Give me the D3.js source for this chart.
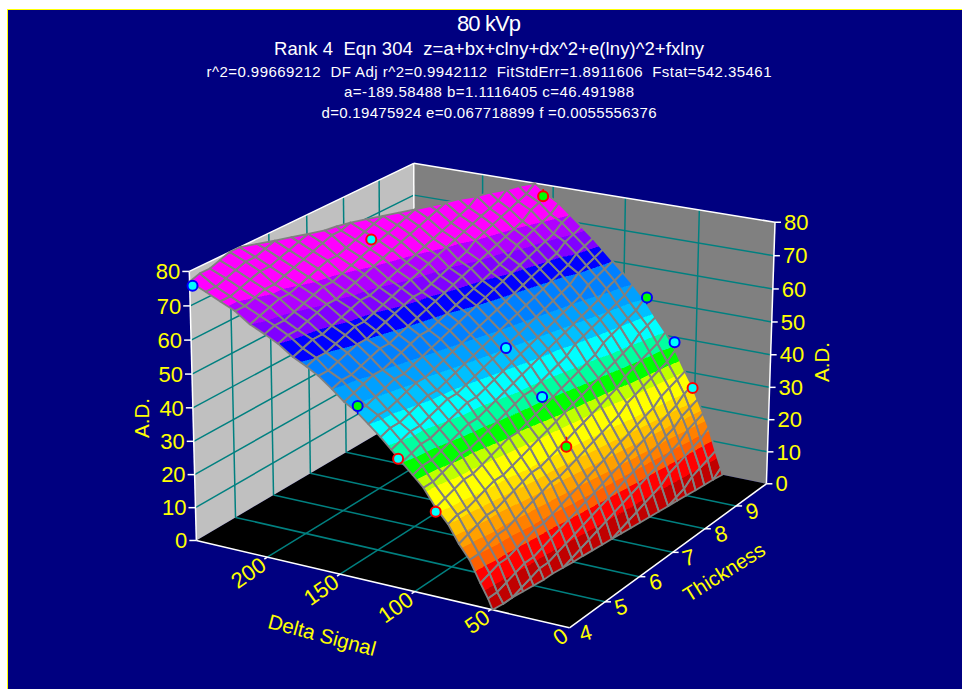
<!DOCTYPE html>
<html>
<head>
<meta charset="utf-8">
<script src="https://cdnjs.cloudflare.com/ajax/libs/d3/7.8.5/d3.min.js"></script>
<style>
  body { margin: 0; background: #fff; }
  svg { display: block; }
  text { font-family: "Liberation Sans", Arial, sans-serif; }
</style>
</head>
<body>
<svg id="chart" width="962" height="689"></svg>
<script>
// title lines
const titleLines = [
  "80 kVp",
  "Rank 4  Eqn 304  z=a+bx+clny+dx^2+e(lny)^2+fxlny",
  "r^2=0.99669212  DF Adj r^2=0.9942112  FitStdErr=1.8911606  Fstat=542.35461",
  "a=-189.58488 b=1.1116405 c=46.491988",
  "d=0.19475924 e=0.067718899 f =0.0055556376",
];

// axis ticks
const deltaTicks = [0, 50, 100, 150, 200];
const thicknessTicks = [4, 5, 6, 7, 8, 9];
const adTicks = [0, 10, 20, 30, 40, 50, 60, 70, 80];

const bandLevels = [0, 5, 10, 13, 16, 19, 22, 25, 30, 33, 37, 41, 46, 50, 54, 60, 64, 68, 72, 80];
const bandColors = [
  "#c00000", "#ff0000", "#ff6000", "#ff8000", "#ffa000",
  "#ffc000", "#ffe000", "#ffff00", "#c0ff00", "#00ff00",
  "#00ffa0", "#00ffff", "#00c0ff", "#00a0ff", "#0080ff",
  "#0000ff", "#8000ff", "#b000ff", "#ff00ff",
];

// measured points
const pointDelta = [248, 137, 110.5, 86, 204.5, 112, 87.5, 71, 157, 84, 64.5, 51.5];
const pointThickness = [4, 4, 4, 4, 7, 7, 7, 7, 10, 10, 10, 10];
const pointAd = [76, 50.6, 37.8, 24.8, 76, 51, 38.4, 25, 76.4, 50.7, 38.4, 25.3];
const pointResidual = [0.4, 2.4, -1.5, -1.8, -1, 1.4, 0.3, -3, -2.2, 2.1, 0.5, -1.5];

// surface mesh: lines of constant delta signal and thickness
const meshDelta = [250, 239, 229, 219, 209, 199, 190, 180, 171, 163, 154, 146, 138, 130, 122, 115,
  108, 101, 94, 86, 78, 71, 64, 57, 52, 48, 44, 40, 35, 31, 28];
const meshThickness = [4, 4.25, 4.5, 4.75, 5, 5.25, 5.5, 5.75, 6, 6.25, 6.5, 6.75, 7, 7.25, 7.5, 7.75,
  8, 8.25, 8.5, 8.75, 9, 9.25, 9.5, 9.75, 10];
// estimated heights, checked against the fit printed in the title.
// values outside 0..80 only place the cut at the edge of the box
const meshAd = [
  [77,78,78,79,80,80,81,82,83,84,85,86,87,88,89,90,91,92,93,94,95,96,97,99,100],
  [75,75,76,77,78,78,79,80,81,82,83,84,84,85,86,87,89,90,91,92,93,94,95,97,98],
  [73,73,74,75,76,76,77,78,79,80,81,82,82,83,84,85,87,88,89,90,91,92,93,95,96],
  [71,71,72,73,73,74,75,76,77,78,79,79,80,81,82,83,84,85,87,88,89,90,91,92,94],
  [68,69,70,71,71,72,73,74,75,75,76,77,78,79,80,81,82,83,84,85,87,88,89,90,91],
  [66,67,67,68,69,70,71,71,72,73,74,75,76,77,78,79,80,81,82,83,84,85,87,88,89],
  [64,65,65,66,67,68,68,69,70,71,72,73,74,75,76,77,78,79,80,81,82,83,84,86,87],
  [61,62,63,63,64,65,66,67,67,68,69,70,71,72,73,74,75,76,77,78,80,81,82,83,84],
  [59,60,60,61,62,63,63,64,65,66,67,68,69,70,71,72,73,74,75,76,77,78,80,81,82],
  [57,57,58,59,60,60,61,62,63,64,65,65,66,67,68,69,70,72,73,74,75,76,77,78,80],
  [54,55,55,56,57,58,58,59,60,61,62,63,64,65,66,67,68,69,70,71,72,73,75,76,77],
  [51,52,53,54,54,55,56,57,58,58,59,60,61,62,63,64,65,66,67,69,70,71,72,73,75],
  [49,49,50,51,52,52,53,54,55,56,57,58,59,60,61,62,63,64,65,66,67,68,69,71,72],
  [46,47,47,48,49,50,50,51,52,53,54,55,56,57,58,59,60,61,62,63,64,65,67,68,69],
  [43,44,44,45,46,47,47,48,49,50,51,52,53,54,55,56,57,58,59,60,61,62,64,65,66],
  [40,41,42,42,43,44,45,45,46,47,48,49,50,51,52,53,54,55,56,57,58,60,61,62,63],
  [37,38,39,39,40,41,42,43,43,44,45,46,47,48,49,50,51,52,53,54,55,57,58,59,60],
  [34,35,35,36,37,38,39,39,40,41,42,43,44,45,46,47,48,49,50,51,52,53,55,56,57],
  [31,31,32,33,34,34,35,36,37,38,39,40,40,41,42,43,44,46,47,48,49,50,51,52,54],
  [26,27,28,29,29,30,31,32,33,33,34,35,36,37,38,39,40,41,42,44,45,46,47,48,50],
  [22,23,23,24,25,26,26,27,28,29,30,31,32,33,34,35,36,37,38,39,40,41,43,44,45],
  [17,18,19,20,20,21,22,23,24,24,25,26,27,28,29,30,31,32,33,35,36,37,38,39,41],
  [13,13,14,15,15,16,17,18,19,20,20,21,22,23,24,25,26,27,29,30,31,32,33,34,36],
  [7,8,9,9,10,11,12,12,13,14,15,16,17,18,19,20,21,22,23,24,25,27,28,29,30],
  [3,3,4,5,6,6,7,8,9,10,11,12,13,14,15,16,17,18,19,20,21,22,23,25,26],
  [-1,0,0,1,2,3,3,4,5,6,7,8,9,10,11,12,13,14,15,16,17,18,20,21,22],
  [-5,-4,-4,-3,-2,-1,-1,0,1,2,3,4,5,6,7,8,9,10,11,12,13,14,16,17,18],
  [-10,-9,-8,-7,-7,-6,-5,-4,-3,-3,-2,-1,0,1,2,3,4,5,6,8,9,10,11,12,14],
  [-16,-15,-14,-14,-13,-12,-11,-11,-10,-9,-8,-7,-6,-5,-4,-3,-2,-1,0,1,2,4,5,6,7],
  [-21,-21,-20,-19,-19,-18,-17,-16,-15,-15,-14,-13,-12,-11,-10,-9,-8,-7,-6,-4,-3,-2,-1,0,2],
  [-26,-26,-25,-24,-23,-23,-22,-21,-20,-19,-18,-17,-17,-16,-15,-14,-13,-11,-10,-9,-8,-7,-6,-5,-3],
];

// scales into the unit box
const deltaMax = 250;
const thicknessMin = 4;
const thicknessMax = 10;
const adMax = 80;
const xScale = d3.scaleLinear().domain([0, deltaMax]).range([0, 1]);
const yScale = d3.scaleLinear().domain([thicknessMin, thicknessMax]).range([0, 1]);
const zScale = d3.scaleLinear().domain([0, adMax]).range([0, 1]);

// camera: where the box sits on the page [u, v, w, pageX, pageY]
const cameraRefs = [
  [0, 0, 0, 568, 628],
  [1, 0, 0, 196, 540],
  [0, 1, 0, 767, 483],
  [1, 1, 0, 414, 412],
  [1, 0, 1, 189, 271],
  [0, 1, 1, 775, 222],
  [1, 1, 1, 414, 164],
  [0.4, 0, 0, 417, 592],
  [0, 0.5, 0, 672, 553],
];

// least squares for the 11 perspective coefficients
function solveCamera(refs) {
  const rows = [];
  refs.forEach(([u, v, w, X, Y]) => {
    rows.push([u, v, w, 1, 0, 0, 0, 0, -X * u, -X * v, -X * w, X]);
    rows.push([0, 0, 0, 0, u, v, w, 1, -Y * u, -Y * v, -Y * w, Y]);
  });
  const n = 11;
  const m = d3.range(n).map((i) =>
    d3.range(n + 1).map((j) => d3.sum(rows, (r) => r[i] * r[j]))
  );
  for (let c = 0; c < n; c++) {
    let best = c;
    for (let r = c + 1; r < n; r++) {
      if (Math.abs(m[r][c]) > Math.abs(m[best][c])) best = r;
    }
    [m[c], m[best]] = [m[best], m[c]];
    for (let r = 0; r < n; r++) {
      if (r === c) continue;
      const k = m[r][c] / m[c][c];
      for (let j = c; j <= n; j++) m[r][j] -= k * m[c][j];
    }
  }
  return m.map((row, i) => row[n] / row[i]);
}
const cam = solveCamera(cameraRefs);

function project(delta, thickness, ad) {
  const u = xScale(delta);
  const v = yScale(thickness);
  const w = zScale(ad);
  const h = cam[8] * u + cam[9] * v + cam[10] * w + 1;
  return [
    (cam[0] * u + cam[1] * v + cam[2] * w + cam[3]) / h,
    (cam[4] * u + cam[5] * v + cam[6] * w + cam[7]) / h,
  ];
}

const svg = d3.select("#chart");
const line = d3.line();
const closed = (pts) => line(pts) + "Z";

// background
svg.append("rect").attr("x", 7).attr("y", 9).attr("width", 955).attr("height", 680).attr("fill", "#ffff00");
svg.append("rect").attr("x", 8).attr("y", 10).attr("width", 954).attr("height", 679).attr("fill", "#000080");

// title
const titleY = [30.5, 54.5, 77, 96.5, 118];
const titleSize = [22, 18.5, 15, 15, 15];
const titleWidth = [64, 430, 565, 290, 335];
svg.append("g")
  .selectAll("text")
  .data(titleLines)
  .join("text")
  .attr("x", 489)
  .attr("y", (d, i) => titleY[i])
  .attr("text-anchor", "middle")
  .attr("font-size", (d, i) => titleSize[i])
  .attr("textLength", (d, i) => titleWidth[i])
  .attr("lengthAdjust", "spacing")
  .style("white-space", "pre")
  .attr("fill", "#fff")
  .text((d) => d);

// walls and floor
const box = svg.append("g");
box.append("path").attr("fill", "#000")
  .attr("d", closed([project(0, 4, 0), project(250, 4, 0), project(250, 10, 0), project(0, 10, 0)]));
box.append("path").attr("fill", "#c0c0c0")
  .attr("d", closed([project(250, 4, 0), project(250, 4, 80), project(250, 10, 80), project(250, 10, 0)]));
box.append("path").attr("fill", "#808080")
  .attr("d", closed([project(250, 10, 0), project(250, 10, 80), project(0, 10, 80), project(0, 10, 0)]));

// grid lines
const gridSegments = [];
deltaTicks.slice(1).forEach((d) => {
  gridSegments.push([project(d, 4, 0), project(d, 10, 0)]);
  gridSegments.push([project(d, 10, 0), project(d, 10, 80)]);
});
thicknessTicks.slice(1).forEach((t) => {
  gridSegments.push([project(0, t, 0), project(250, t, 0)]);
  gridSegments.push([project(250, t, 0), project(250, t, 80)]);
});
adTicks.slice(1, -1).forEach((a) => {
  gridSegments.push([project(250, 4, a), project(250, 10, a)]);
  gridSegments.push([project(250, 10, a), project(0, 10, a)]);
});
box.append("g")
  .selectAll("path")
  .data(gridSegments)
  .join("path")
  .attr("d", line)
  .attr("fill", "none")
  .attr("stroke", "#008080")
  .attr("stroke-width", 1.5);

// box edges
const edgeSegments = [
  [project(0, 4, 0), project(250, 4, 0)],
  [project(0, 4, 0), project(0, 10, 0)],
  [project(250, 4, 0), project(250, 4, 80)],
  [project(0, 10, 0), project(0, 10, 80)],
  [project(250, 4, 80), project(250, 10, 80)],
  [project(250, 10, 80), project(0, 10, 80)],
  [project(250, 10, 0), project(250, 10, 80)],
];
box.append("g")
  .selectAll("path")
  .data(edgeSegments)
  .join("path")
  .attr("d", line)
  .attr("fill", "none")
  .attr("stroke", "#fff")
  .attr("stroke-width", 1.5);

// keep the part of a mesh cell between two A.D. levels
function clipAbove(poly, level, sign) {
  const out = [];
  poly.forEach((p, i) => {
    const q = poly[(i + 1) % poly.length];
    const pIn = sign * (p.a - level) >= 0;
    const qIn = sign * (q.a - level) >= 0;
    if (pIn) out.push(p);
    if (pIn !== qIn) {
      const k = (level - p.a) / (q.a - p.a);
      out.push({
        d: p.d + (q.d - p.d) * k,
        t: p.t + (q.t - p.t) * k,
        a: level,
      });
    }
  });
  return out;
}
const clipBand = (poly, lo, hi) => clipAbove(clipAbove(poly, lo, 1), hi, -1);
const polyPath = (poly) => closed(poly.map((p) => project(p.d, p.t, p.a)));

// surface cells, far corner first
const cellFills = [];
const cellOutlines = [];
d3.range(meshDelta.length - 1).forEach((i) => {
  d3.range(meshThickness.length - 2, -1, -1).forEach((j) => {
    const quad = [[i, j], [i + 1, j], [i + 1, j + 1], [i, j + 1]].map(([r, c]) => ({
      d: meshDelta[r],
      t: meshThickness[c],
      a: meshAd[r][c],
    }));
    bandColors.forEach((color, b) => {
      const piece = clipBand(quad, bandLevels[b], bandLevels[b + 1]);
      if (piece.length > 2) cellFills.push({ color, path: polyPath(piece) });
    });
    const outline = clipBand(quad, 0, adMax);
    if (outline.length > 2) cellOutlines.push(polyPath(outline));
  });
});

svg.append("g")
  .selectAll("path")
  .data(cellFills)
  .join("path")
  .attr("d", (d) => d.path)
  .attr("fill", (d) => d.color)
  .attr("stroke", (d) => d.color)
  .attr("stroke-width", 0.5)
  .attr("shape-rendering", "crispEdges");

svg.append("g")
  .selectAll("path")
  .data(cellOutlines)
  .join("path")
  .attr("d", (d) => d)
  .attr("fill", "none")
  .attr("stroke", "#808080")
  .attr("stroke-width", 1.8)
  .attr("stroke-linejoin", "round");

// measured points with their short line to the surface
const points = pointDelta.map((d, i) => ({
  d,
  t: pointThickness[i],
  a: pointAd[i],
  r: pointResidual[i],
}));
const pointFill = d3.scaleThreshold().domain([2]).range(["#00ffff", "#00ff00"]);
const pointStroke = (r) => (r > 0 ? "#0000ff" : "#ff0000");
const pointLayer = svg.append("g");
pointLayer.selectAll("path")
  .data(points)
  .join("path")
  .attr("d", (p) => line([project(p.d, p.t, p.a), project(p.d, p.t, p.a - p.r)]))
  .attr("stroke", (p) => pointStroke(p.r))
  .attr("stroke-width", 1.5);
pointLayer.selectAll("circle")
  .data(points)
  .join("circle")
  .attr("cx", (p) => project(p.d, p.t, p.a)[0])
  .attr("cy", (p) => project(p.d, p.t, p.a)[1])
  .attr("r", 5)
  .attr("fill", (p) => pointFill(Math.abs(p.r)))
  .attr("stroke", (p) => pointStroke(p.r))
  .attr("stroke-width", 2);

// axis ticks and labels
const axes = svg.append("g").attr("fill", "#ffff00");
const tickSegments = [];
adTicks.forEach((a) => {
  const [lx, ly] = project(250, 4, a);
  const [rx, ry] = project(0, 10, a);
  tickSegments.push([[lx - 7, ly], [lx, ly]]);
  tickSegments.push([[rx, ry], [rx + 6, ry]]);
});
thicknessTicks.slice(1).forEach((t) => {
  const [x, y] = project(0, t, 0);
  tickSegments.push([[x, y], [x + 6, y]]);
});
deltaTicks.slice(1).forEach((d) => {
  const [x, y] = project(d, 4, 0);
  tickSegments.push([[x, y], [x - 3, y + 2]]);
});
axes.append("g")
  .selectAll("path")
  .data(tickSegments)
  .join("path")
  .attr("d", line)
  .attr("stroke", "#fff")
  .attr("stroke-width", 1.5);

axes.append("g")
  .selectAll("text")
  .data(adTicks)
  .join("text")
  .attr("x", (a) => project(250, 4, a)[0] - 9)
  .attr("y", (a) => project(250, 4, a)[1])
  .attr("dy", "0.35em")
  .attr("text-anchor", "end")
  .attr("font-size", 22)
  .text((a) => a);

axes.append("g")
  .selectAll("text")
  .data(adTicks)
  .join("text")
  .attr("x", (a) => project(0, 10, a)[0] + 9)
  .attr("y", (a) => project(0, 10, a)[1])
  .attr("dy", "0.35em")
  .attr("font-size", 22)
  .text((a) => a);

axes.append("g")
  .selectAll("text")
  .data(deltaTicks)
  .join("text")
  .attr("transform", (d) => {
    const [x, y] = project(d, 4, 0);
    return `translate(${x - 4},${y + 5}) rotate(-35)`;
  })
  .attr("dy", "0.35em")
  .attr("text-anchor", "end")
  .attr("font-size", 22)
  .text((d) => d);

axes.append("g")
  .selectAll("text")
  .data(thicknessTicks)
  .join("text")
  .attr("transform", (t) => {
    const [x, y] = project(0, t, 0);
    return `translate(${x + 16},${y + 5}) rotate(-15)`;
  })
  .attr("dy", "0.35em")
  .attr("text-anchor", "middle")
  .attr("font-size", 22)
  .text((t) => t);

// axis titles
const axisTitles = [
  { text: "A.D.", x: 142, y: 418, angle: -90 },
  { text: "A.D.", x: 822, y: 362, angle: -90 },
  { text: "Delta Signal", x: 322, y: 635, angle: 15 },
  { text: "Thickness", x: 724, y: 572, angle: -32 },
];
axes.append("g")
  .selectAll("text")
  .data(axisTitles)
  .join("text")
  .attr("transform", (d) => `translate(${d.x},${d.y}) rotate(${d.angle})`)
  .attr("dy", "0.35em")
  .attr("text-anchor", "middle")
  .attr("font-size", 20.5)
  .text((d) => d.text);
</script>
</body>
</html>
